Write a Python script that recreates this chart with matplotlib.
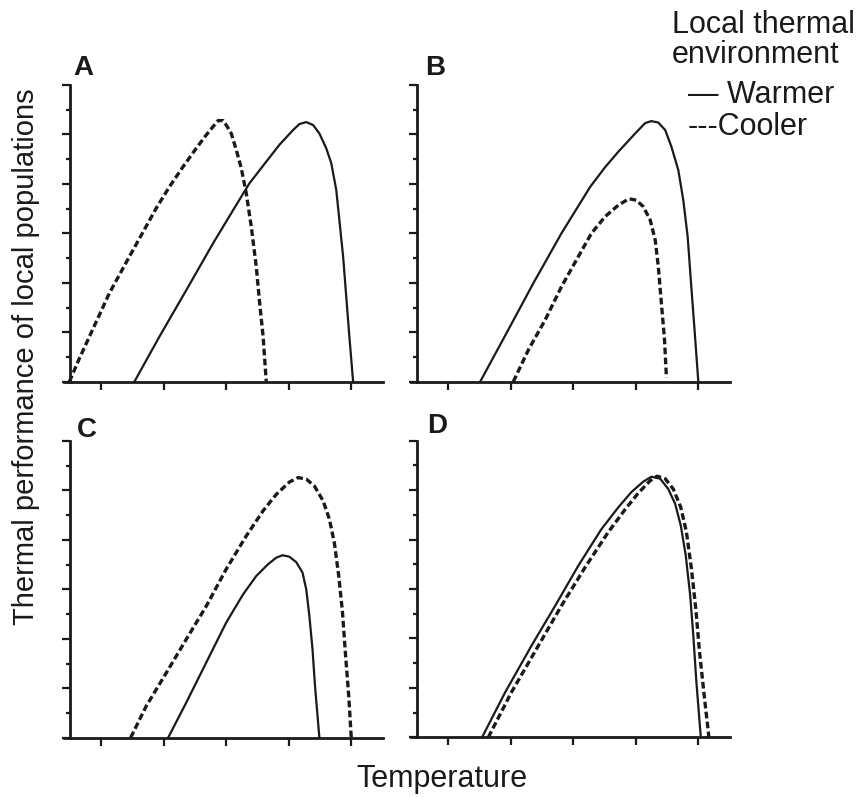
import matplotlib
matplotlib.use("Agg")
import numpy as np
from matplotlib import pyplot as plt

# curvas (x = temperatura, y = desempenho)
a_quente_x = [1.53, 1.93, 2.36, 2.79, 3.11, 3.37, 3.64, 3.85, 4.07, 4.17, 4.28, 4.39, 4.49, 4.60, 4.68, 4.76, 4.81, 4.87, 4.92, 4.97, 5.03]
a_quente_y = [0.00, 0.91, 1.85, 2.80, 3.47, 4.01, 4.45, 4.79, 5.09, 5.21, 5.25, 5.19, 5.02, 4.72, 4.42, 3.88, 3.27, 2.53, 1.72, 0.91, 0.00]
a_frio_x = [0.49, 0.65, 0.81, 0.97, 1.13, 1.29, 1.45, 1.67, 1.88, 2.09, 2.31, 2.52, 2.68, 2.79, 2.87, 2.95, 3.00, 3.08, 3.16, 3.24, 3.32, 3.40, 3.48, 3.53, 3.59, 3.64]
a_frio_y = [0.00, 0.47, 0.91, 1.35, 1.79, 2.16, 2.53, 3.03, 3.51, 3.94, 4.35, 4.72, 4.99, 5.16, 5.28, 5.28, 5.19, 5.02, 4.69, 4.32, 3.81, 3.14, 2.33, 1.65, 0.91, 0.00]

b_quente_x = [1.51, 1.96, 2.36, 2.81, 3.27, 3.51, 3.72, 3.99, 4.15, 4.25, 4.36, 4.47, 4.57, 4.68, 4.76, 4.83, 4.88, 4.94, 5.00]
b_quente_y = [0.00, 1.05, 1.99, 3.00, 3.94, 4.34, 4.65, 5.02, 5.23, 5.27, 5.24, 5.09, 4.75, 4.28, 3.67, 2.93, 2.06, 1.05, 0.00]
b_frio_x = [2.04, 2.28, 2.55, 2.81, 3.08, 3.29, 3.51, 3.72, 3.89, 4.01, 4.12, 4.23, 4.31, 4.36, 4.41, 4.46, 4.49]
b_frio_y = [0.00, 0.64, 1.25, 1.92, 2.53, 3.00, 3.34, 3.57, 3.70, 3.67, 3.54, 3.27, 2.87, 2.33, 1.58, 0.84, 0.08]

c_quente_x = [2.07, 2.36, 2.68, 3.00, 3.27, 3.48, 3.67, 3.80, 3.90, 4.01, 4.12, 4.22, 4.28, 4.33, 4.38, 4.42, 4.49]
c_quente_y = [0.00, 0.71, 1.52, 2.33, 2.90, 3.27, 3.51, 3.64, 3.69, 3.66, 3.55, 3.34, 3.00, 2.46, 1.79, 1.05, 0.00]
c_frio_x = [1.47, 1.72, 2.04, 2.36, 2.68, 3.00, 3.32, 3.59, 3.80, 4.01, 4.15, 4.28, 4.41, 4.55, 4.65, 4.73, 4.80, 4.86, 4.91, 4.96, 5.00]
c_frio_y = [0.00, 0.64, 1.31, 1.99, 2.66, 3.41, 4.08, 4.59, 4.92, 5.17, 5.26, 5.23, 5.09, 4.79, 4.42, 3.94, 3.27, 2.53, 1.65, 0.84, 0.00]

d_quente_x = [1.54, 1.91, 2.33, 2.71, 3.08, 3.45, 3.72, 3.93, 4.12, 4.25, 4.39, 4.52, 4.63, 4.72, 4.80, 4.87, 4.92, 4.97, 5.04]
d_quente_y = [0.00, 0.91, 1.85, 2.66, 3.47, 4.21, 4.65, 4.96, 5.17, 5.27, 5.23, 5.02, 4.72, 4.28, 3.67, 2.87, 2.06, 1.11, 0.00]
d_frio_x = [1.64, 2.01, 2.44, 2.81, 3.19, 3.56, 3.83, 4.04, 4.23, 4.34, 4.47, 4.60, 4.72, 4.81, 4.89, 4.96, 5.02, 5.10, 5.17]
d_frio_y = [0.00, 0.91, 1.85, 2.66, 3.44, 4.15, 4.61, 4.94, 5.19, 5.28, 5.23, 5.02, 4.65, 4.15, 3.41, 2.60, 1.72, 0.78, 0.00]

letras = ["A", "B", "C", "D"]
paineis = [
    (a_quente_x, a_quente_y, a_frio_x, a_frio_y),
    (b_quente_x, b_quente_y, b_frio_x, b_frio_y),
    (c_quente_x, c_quente_y, c_frio_x, c_frio_y),
    (d_quente_x, d_quente_y, d_frio_x, d_frio_y),
]
xticks = [1, 2, 3, 4, 5]
yticks = [0, 1, 2, 3, 4, 5, 6]

plt.rcParams["font.family"] = ["Liberation Sans", "DejaVu Sans"]
cor = "#1a1a1a"

W, H = 864, 797
fig = plt.figure(figsize=(W / 100, H / 100), dpi=100)

# posicao dos eixos em pixels: (esquerda, base), e posicao das letras
pos = [(63.75, 381.7), (410.8, 381.7), (63.75, 737.7), (410.8, 737.3)]
pos_letra = [(73, 75), (425, 75), (77, 437), (427, 433)]
larg, alt = 318.75, 296.7

for i in range(4):
    l, b = pos[i]
    ax = fig.add_axes([l / W, 1 - b / H, larg / W, alt / H])
    qx, qy, fx, fy = paineis[i]
    ax.plot(qx, qy, color=cor, lw=1.6, clip_on=False, solid_joinstyle="round")
    ax.plot(fx, fy, color=cor, lw=2.4, linestyle=(0, (2.0, 1.0)), clip_on=False)
    ax.set_xlim(0.4, 5.5)
    ax.set_ylim(0, 6)
    ax.spines["top"].set_visible(False)
    ax.spines["right"].set_visible(False)
    ax.spines["left"].set_position(("data", 0.5))
    ax.spines["left"].set_bounds(0, 6)
    for s in ["left", "bottom"]:
        ax.spines[s].set_linewidth(2.0)
        ax.spines[s].set_color(cor)
    ax.set_xticks(xticks)
    ax.set_yticks(yticks)
    ax.set_yticks(np.arange(0.5, 6, 1), minor=True)
    ax.set_xticklabels([])
    ax.set_yticklabels([])
    ax.tick_params(axis="both", which="major", direction="out", length=5.5, width=1.6, color=cor)
    ax.tick_params(axis="y", which="minor", direction="out", length=2.8, width=1.6, color=cor)
    ax.tick_params(axis="x", which="minor", length=0)
    ax.patch.set_alpha(0)
    xl, yl = pos_letra[i]
    fig.text(xl / W, 1 - yl / H, letras[i], fontsize=20, fontweight="bold",
             color=cor, ha="left", va="baseline")

fig.text(26 / W, 1 - 357 / H, "Thermal performance of local populations", fontsize=21,
         rotation=90, ha="center", va="center", color=cor)
fig.text(442 / W, 1 - 787 / H, "Temperature", fontsize=22, ha="center", va="baseline", color=cor)

fig.text(672 / W, 1 - 33 / H, "Local thermal", fontsize=22, ha="left", va="baseline", color=cor)
fig.text(672 / W, 1 - 63 / H, "environment", fontsize=22, ha="left", va="baseline", color=cor)
fig.text(688 / W, 1 - 103 / H, "\u2014 Warmer", fontsize=22, ha="left", va="baseline", color=cor)
fig.text(688 / W, 1 - 135 / H, "---Cooler", fontsize=22, ha="left", va="baseline", color=cor)

fig.savefig("out.png", dpi=100, facecolor="white")
